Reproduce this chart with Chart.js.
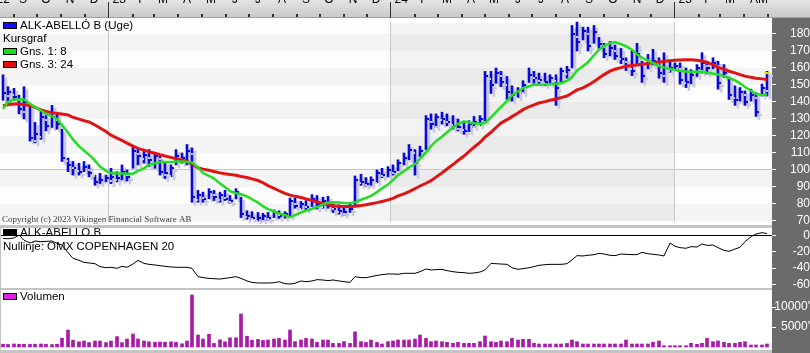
<!DOCTYPE html>
<html>
<head>
<meta charset="utf-8">
<title>ALK-ABELLÓ B (Uge)</title>
<script src="https://cdn.jsdelivr.net/npm/chart.js@4.4.1/dist/chart.umd.min.js"></script>
<style>
  html, body { margin: 0; padding: 0; background: #fff; }
  #wrap { position: relative; width: 810px; height: 353px; overflow: hidden; background: #fff; }
  #wrap canvas { position: absolute; left: 0; }
</style>
</head>
<body>
<div id="wrap">
  <canvas id="priceChart" width="810" height="228" style="top:0px"></canvas>
  <canvas id="relChart" width="810" height="62" style="top:228px"></canvas>
  <canvas id="volChart" width="810" height="63" style="top:290px"></canvas>
</div>
<script>
'use strict';

// ─── DATA (ugentlige bars fra 15. aug 2022) ─────────────────────
const startDate = [2022, 7, 15];

const high = [
  156,149,148,144,149,138,128,135,132,138,
  134,124,107,105,104,105,103,97,98,97,
  101,99,103,100,114,112,111,112,110,108,
  105,103,112,110,115,113,88,87,89,88,
  87,88,85,89,84,76,75.5,75,74.5,75,
  76.5,76,75.5,83.5,83.5,81.5,82,85.5,85,84,
  84.5,80,79.5,79,80.5,96.5,97.5,95.5,96,100,
  101,102,103,106,110,115,112,114,132,133,
  133,134,133,132,130,128,129,131.5,132,158,
  158,160,158,155,149.5,148.5,152.5,160,158,157,
  157,156,156,160,161,185,187,184,184,185,
  178,174.5,175.5,173.5,171.5,166,170,174.5,164,168,
  171,166,169,164,163,163,160,159,162,169,
  164,166,164,162,155,149.5,148.5,146.5,147.5,145.5,
  150.5,158
];
const low = [
  141,139,141,133,130,117,116,118,123,125,
  124,105,99,97,97,99,96,91,92,93,
  92,93,94,93.5,101,103,104,102,101,97,
  95,96,103,104,103,81,81,81,83,82,
  81,82,80.5,83,72,71,71,70,70,70.5,
  72,71.5,71.5,72.5,77.5,77,76.5,78.5,77,77.5,
  77.5,75,74,73.5,75,79.5,91,90.5,91,92.5,
  95.5,96,97,99.5,103,106,97,108,112,124,
  125,127,126,124,123,121,122.5,125,126,128.5,
  145,151,149,141.5,140.5,142.5,145,151.5,151,150.5,
  149.5,150.5,138,152,154,160,170,176.5,170,174.5,
  171.5,166,167,165,162.5,158.5,155.5,162,151.5,159.5,
  161,154,151.5,157.5,159.5,150.5,148.5,150.5,155,157,
  156.5,159.5,147.5,154.5,141.5,138,140.5,138,140.5,131.5,
  143.5,143.5
];
const close = [
  145,146,143,136,140,119,121,131,126,131,
  127,107,103,101,99,102,98,93,94,95,
  96,95,99,96,111,108,109,106,108,99,
  98,101,108,107,111,84,85,83,87,84,
  85,83,82,87,74,73,72,71.5,73,72,
  75,73,74,82,79,80,78,83,80,82,
  79,77,76,75,77,94,93,92,94,98,
  97,100,99,104,107,112,104,111,130,127,
  131,130,128,126,125,123,127,128,130,155,
  150,157,152,146,144,147,150,156,154,153,
  152,154,148,158,159,180,175,182,173,181,
  174,168,172,167,165,161,158,168,155,163,
  164,157,160,160,161,153,152,156,160,163,
  160,163,151,157,144,141,146,140,144,134,
  148,157
];
const avg8 = [
  136,140,141.5,141.5,141.5,139,137,135,133,131.5,
  130,126.5,122,118,114,111.5,109,105.5,102,99.5,
  98.2,98,98,97.8,97.8,99.5,101,103,104,104.7,
  104.7,104.7,105,105,104.7,104.5,101.5,98.2,96.5,95,
  92,90,87.5,86.3,85.7,84.5,82.8,80.8,78.7,77,
  75.6,74.5,73.5,72.3,73.5,75,76.1,77.2,78.2,79.8,
  80.7,81,80.9,80.6,80.5,81,82.5,83.6,84.8,87,
  89.2,91.5,94,97,99.3,101.5,103.5,106.5,110.5,114,
  117,119.6,122.2,125,127.2,128.6,128,127.5,127.2,127.6,
  131,134,137.2,140.5,144,146.2,148.2,149.3,150.2,150.2,
  150.3,150.5,150.7,151,152.5,154.5,158.5,161,163.5,167.5,
  170.8,173,174.5,175.3,174,172.8,170.8,168,166,164.3,
  162.8,161.2,160.3,159.6,158.9,158.3,157.9,157.6,157.9,157.8,
  157.2,156.7,156.2,155.2,154.1,152.7,151,148.8,146.6,144.8,
  144,144.5
];
const avg24 = [
  137.8,138.5,138.8,138.8,138.5,138,136.8,135.4,134.5,133.7,
  133.3,132.9,132.4,131,129.9,129,128.3,126.5,124.7,122.6,
  120.5,118.8,117.4,115.8,114.1,112.7,111.7,110.7,109.9,109,
  108.2,107.4,106.7,105.9,105.1,103.5,101.3,100.5,99.8,99.1,
  98.3,97.8,97.4,96.9,96.2,95.6,94.8,93.8,92.5,90.8,
  89.2,87.8,86.2,85.2,84.5,83.8,83,82.1,81.2,80.2,
  79.5,79,78.7,78.6,78.6,78.7,79.1,79.6,80.2,80.8,
  81.5,82.4,83.3,84.8,86,87.3,89,90.6,92.2,93.7,
  95.8,98.3,100.6,103.2,105.6,108.2,110.8,113.4,116.2,119.3,
  122.2,125,127.6,129.6,131.4,133.5,135.5,137.2,138.3,139.4,
  140.2,141,141.8,142.6,143.5,145.3,147.1,148.3,149.9,152,
  154.1,156.1,158.1,159.3,160.2,161,161.5,161.8,162.2,162.7,
  163.2,163.5,163.9,164.3,164.5,164.7,164.8,164.9,164.6,164.1,
  163.3,162,160.4,159.2,158.1,157.1,156.1,155.2,154.5,154,
  153.6,153.2
];
// relativ styrke mod OMX Copenhagen 20
const relStrength = [
  -3.5,-4,-3,0.5,-5.8,-9.2,-6.8,-7.6,-7.2,-6.8,
  -9.6,-11.7,-21,-28,-30.5,-33,-33.7,-34.6,-38.2,-39.5,
  -39,-40.3,-37.8,-39,-35,-30.5,-34.2,-35.4,-36.2,-37,
  -37.8,-38.6,-39,-39,-39,-40.3,-50.5,-51.7,-52.6,-53,
  -53.4,-52.6,-51.7,-50.5,-52.6,-55.8,-57.5,-58.3,-58.3,-58.3,
  -57.9,-56.7,-59.1,-59.5,-58.7,-55.8,-56.7,-55.8,-54.2,-54.6,
  -55.4,-54.6,-55.8,-56.7,-57.5,-50.5,-51.7,-51.7,-50.5,-49,
  -48,-47.2,-47.2,-47.6,-46.4,-46.4,-46.4,-44.4,-41.1,-42.3,
  -41.9,-41.5,-43.1,-44.4,-45.2,-45.6,-46.4,-46,-44.8,-42.3,
  -34.2,-34.6,-35,-35.4,-39.5,-41.5,-40.7,-39.5,-38.2,-36.6,
  -35.8,-35.4,-35.4,-35.4,-34.6,-30,-24.7,-25.1,-24.3,-23.5,
  -21.9,-22.7,-24.3,-24.7,-22.7,-23.1,-23.5,-23.5,-20.7,-22.3,
  -23.1,-23.9,-25.1,-9.2,-13.3,-14.9,-15.7,-13.7,-14.1,-10.4,
  -12.1,-11.7,-14.9,-18.2,-19.4,-16.6,-14.5,-7.6,-1.4,1.8,
  3.5,2.3
];
// volumen i tusinder
const volume = [
  700,650,750,700,700,650,700,750,700,600,
  700,2200,4250,1700,1300,1500,1100,1500,1500,1100,
  1500,2600,1100,2000,3250,2000,1500,1300,1200,1250,
  1200,1300,1200,800,1500,13000,3000,2000,3200,900,
  1800,1300,2300,2300,8250,2700,1700,1900,1650,1750,
  2000,2150,1750,4250,1350,1750,2150,2000,1150,1750,
  1750,900,900,1350,900,3800,1350,1150,1750,1150,
  750,1350,1500,1750,1750,1750,2000,3000,2170,1330,
  1500,1330,1170,920,1170,920,920,920,1330,2750,
  1330,1170,1500,1330,2170,1750,1920,1920,920,750,
  750,750,750,750,900,1750,1330,750,750,750,
  750,750,750,750,750,1750,750,750,750,750,
  1170,1500,330,330,330,330,330,920,670,920,
  2170,1330,1500,1170,920,920,1170,1330,500,500,
  500,750
];

const months = [
  '2022-08','2022-09','2022-10','2022-11','2022-12',
  '2023-01','2023-02','2023-03','2023-04','2023-05','2023-06','2023-07','2023-08','2023-09','2023-10','2023-11','2023-12',
  '2024-01','2024-02','2024-03','2024-04','2024-05','2024-06','2024-07','2024-08','2024-09','2024-10','2024-11','2024-12',
  '2025-01','2025-02','2025-03','2025-04','2025-05'
];
const monthLabels = [
  "'22",'S','O','N','D',
  "'23",'F','M','A','M','J','J','A','S','O','N','D',
  "'24",'F','M','A','M','J','J','A','S','O','N','D',
  "'25",'F','M','A','M'
];
const priceTicks = [70, 80, 90, 100, 110, 120, 130, 140, 150, 160, 170, 180];
const relTicks = [0, -20, -40, -60];
const volTicks = [5000, 10000];

// ─── LAYOUT / STYLE ─────────────────────────────────────────────
const FONT = "'Liberation Sans', Arial, sans-serif";
Chart.defaults.font.family = FONT;
Chart.defaults.font.size = 12;
Chart.defaults.color = '#000';

const X_MIN = -0.5, X_MAX = 141.9;
const AXIS_W = 38;
const PANEL_GREY = '#6b6b6b';
const SEP_GREY = '#c4c4c4';
const BAR_BLUE = '#0808d8';

const el = (id) => document.getElementById(id);
const DAY = 864e5;
const T0 = Date.UTC(...startDate);
const dateToX = (y, m, d) => (Date.UTC(y, m, d) - T0) / (7 * DAY) - 0.5;

const monthStart = months.map(s => {
  const [y, m] = s.split('-').map(Number);
  return { x: dateToX(y, m - 1, 1), jan: m === 1 };
});
const labelPos = monthStart.map(ms => Math.min(Math.max(ms.x + 13 / 7, X_MIN + 0.3), X_MAX - 1.6));
const yearStarts = monthStart.filter(ms => ms.jan).map(ms => ms.x);

const pts = (arr) => arr.map((v, i) => ({ x: i, y: v }));
const lastIdx = close.length - 1;

function rightAxis(min, max, tickVals, padding, gridColor, fmt) {
  return {
    position: 'right', min, max,
    afterBuildTicks: s => { s.ticks = tickVals.map(v => ({ value: v })); },
    afterFit: s => { s.width = AXIS_W; s.paddingTop = 0; s.paddingBottom = 0; },
    border: { display: false },
    grid: {
      drawOnChartArea: true,
      color: c => gridColor(c.tick ? c.tick.value : null),
      tickColor: '#fff', tickLength: 4, lineWidth: 1
    },
    ticks: { color: '#fff', crossAlign: 'far', padding, autoSkip: false, font: { size: 12 },
             callback: fmt || (v => String(v)) }
  };
}
const hiddenX = () => ({ type: 'linear', min: X_MIN, max: X_MAX, offset: false, alignToPixels: true, display: false });
const baseOpts = {
  responsive: false, animation: false, events: [],
  layout: { padding: 0, autoPadding: false },
  plugins: { legend: { display: false }, tooltip: { enabled: false } }
};

function legendItem(ctx, x, y, fill, text) {
  ctx.fillStyle = fill;
  ctx.fillRect(x, y, 14, 7);
  ctx.strokeStyle = '#000';
  ctx.lineWidth = 1;
  ctx.strokeRect(x + 0.5, y + 0.5, 13, 6);
  ctx.fillStyle = '#000';
  ctx.fillText(text, x + 17, y + 4);
}

// ─── 1. KURSGRAF ────────────────────────────────────────────────
const BAR_INDEX = 3;
const priceDecor = {
  id: 'priceDecor',
  beforeDraw(chart) {
    const { ctx, chartArea: a, scales: { x, y } } = chart;
    ctx.save();
    ctx.fillStyle = '#fff';
    ctx.fillRect(0, 0, chart.width, chart.height);
    // vandrette bånd
    for (let i = 0; i < priceTicks.length; i++) {
      const lo = priceTicks[i], hi = lo + 10;
      const top = y.getPixelForValue(hi), bot = y.getPixelForValue(lo);
      ctx.fillStyle = (lo / 10) % 2 ? '#f4f4f4' : '#fdfdfd';
      ctx.fillRect(a.left, top, a.right - a.left, bot - top);
    }
    // 2024 skygge
    const x24 = x.getPixelForValue(yearStarts[1]);
    const x25 = x.getPixelForValue(yearStarts[2]);
    ctx.fillStyle = 'rgba(0,0,0,0.04)';
    ctx.fillRect(x24, a.top + 5, x25 - x24, a.bottom - a.top - 12);
    // årsskillelinjer
    ctx.fillStyle = '#c8c8c8';
    yearStarts.forEach(v => {
      const px = Math.round(x.getPixelForValue(v));
      ctx.fillRect(px, a.top + 4, 1, a.bottom - a.top - 10);
    });
    // tidsakse
    const g = ctx.createLinearGradient(0, 0, 0, a.top);
    g.addColorStop(0, '#e4e4e4');
    g.addColorStop(1, '#c8c8c8');
    ctx.fillStyle = g;
    ctx.fillRect(0, 0, chart.width, a.top);
    ctx.fillStyle = '#a0a0a0';
    ctx.fillRect(0, a.top - 1, chart.width, 1);
    ctx.fillStyle = '#303030';
    monthStart.forEach(ms => {
      const px = Math.round(x.getPixelForValue(ms.x));
      if (px < 0 || px > a.right) return;
      if (ms.jan) ctx.fillRect(px, 2, 1, a.top - 2);
      else ctx.fillRect(px, a.top - 4, 2, 3);
    });
    // højre panel
    ctx.fillStyle = PANEL_GREY;
    ctx.fillRect(a.right, a.top, chart.width - a.right, chart.height - a.top);
    ctx.restore();
  },
  beforeDatasetDraw(chart, args) {
    if (args.index !== BAR_INDEX) return;
    const ctx = chart.ctx;
    ctx.save();
    ctx.shadowColor = '#cacadc';
    ctx.shadowOffsetX = 3;
    ctx.shadowOffsetY = 3;
    ctx.shadowBlur = 0;
  },
  afterDatasetDraw(chart, args) {
    if (args.index !== BAR_INDEX) return;
    const { ctx, scales: { x, y } } = chart;
    ctx.fillStyle = BAR_BLUE;
    close.forEach((c, i) => {
      const px = Math.round(x.getPixelForValue(i));
      const py = Math.round(y.getPixelForValue(c));
      ctx.fillRect(px + 1, py - 1, 2, 2);
    });
    ctx.restore();
  },
  afterDraw(chart) {
    const { ctx, chartArea: a } = chart;
    ctx.save();
    ctx.fillStyle = SEP_GREY;
    ctx.fillRect(0, chart.height - 3, a.right, 3);
    ctx.font = "11.5px " + FONT;
    ctx.textBaseline = 'middle';
    legendItem(ctx, 3, 22, '#1010ff', 'ALK-ABELLÓ B (Uge)');
    ctx.fillStyle = '#000';
    ctx.fillText('Kursgraf', 3, 39);
    legendItem(ctx, 3, 48, '#18e018', 'Gns. 1: 8');
    legendItem(ctx, 3, 61, '#e01010', 'Gns. 3: 24');
    ctx.font = "9px 'Liberation Serif', 'Times New Roman', serif";
    ctx.fillStyle = '#3c3c3c';
    ctx.textBaseline = 'alphabetic';
    ctx.fillText('Copyright (c) 2023 Vikingen Financial Software AB', 2, 222);
    ctx.restore();
  }
};

new Chart(el('priceChart'), {
  data: {
    datasets: [
      { type: 'scatter', label: 'Sidste kurs', data: [{ x: lastIdx, y: close[lastIdx] }],
        pointStyle: 'line', radius: 3, borderColor: '#f2e400', borderWidth: 2, order: 0 },
      { type: 'line', label: 'Gns. 1: 8', data: pts(avg8), borderColor: '#22dd22', borderWidth: 2.5, pointRadius: 0, tension: 0, order: 1 },
      { type: 'line', label: 'Gns. 3: 24', data: pts(avg24), borderColor: '#e01414', borderWidth: 3, pointRadius: 0, tension: 0, order: 2 },
      { type: 'bar', label: 'ALK-ABELLÓ B', data: high.map((h, i) => ({ x: i, y: [low[i], h] })),
        backgroundColor: BAR_BLUE, barThickness: 2, borderWidth: 0, order: 3 }
    ]
  },
  options: {
    ...baseOpts,
    scales: {
      x: {
        type: 'linear', position: 'top', min: X_MIN, max: X_MAX, offset: false, alignToPixels: true,
        afterBuildTicks: s => { s.ticks = labelPos.map(v => ({ value: v })); },
        afterFit: s => { s.height = 18; s.paddingLeft = 0; s.paddingRight = 0; },
        grid: { display: false, offset: false },
        border: { display: false },
        ticks: { autoSkip: false, maxRotation: 0, minRotation: 0, padding: 3, color: '#000',
                 font: { size: 12 }, callback: (v, i) => monthLabels[i] }
      },
      y: rightAxis(65.88, 189.41, priceTicks, 10, v => v === 100 ? '#c8c8c8' : 'rgba(0,0,0,0)')
    }
  },
  plugins: [priceDecor]
});

// ─── 2. RELATIV STYRKE ──────────────────────────────────────────
const relDecor = {
  id: 'relDecor',
  beforeDraw(chart) {
    const { ctx, chartArea: a } = chart;
    ctx.save();
    ctx.fillStyle = '#fff';
    ctx.fillRect(0, 0, chart.width, chart.height);
    ctx.fillStyle = PANEL_GREY;
    ctx.fillRect(a.right, 0, chart.width - a.right, chart.height);
    ctx.restore();
  },
  afterDraw(chart) {
    const { ctx, chartArea: a } = chart;
    ctx.save();
    ctx.fillStyle = SEP_GREY;
    ctx.fillRect(0, chart.height - 2, a.right, 2);
    ctx.fillRect(0, 0, 1, chart.height);
    ctx.font = "11.5px " + FONT;
    ctx.textBaseline = 'middle';
    legendItem(ctx, 3, 1, '#000', 'ALK-ABELLÓ B');
    ctx.fillStyle = '#000';
    ctx.fillText('Nullinje: OMX COPENHAGEN 20', 3, 19);
    ctx.restore();
  }
};

new Chart(el('relChart'), {
  type: 'line',
  data: {
    datasets: [
      { label: 'ALK-ABELLÓ B', data: pts(relStrength), borderColor: '#000', borderWidth: 1, pointRadius: 0, tension: 0 }
    ]
  },
  options: {
    ...baseOpts,
    scales: {
      x: hiddenX(),
      y: rightAxis(-66.87, 9.2, relTicks, 12, v => v === 0 ? '#000' : 'rgba(0,0,0,0)')
    }
  },
  plugins: [relDecor]
});

// ─── 3. VOLUMEN ─────────────────────────────────────────────────
const volDecor = {
  id: 'volDecor',
  beforeDraw(chart) {
    const { ctx, chartArea: a } = chart;
    ctx.save();
    ctx.fillStyle = '#fff';
    ctx.fillRect(0, 0, chart.width, chart.height);
    ctx.fillStyle = PANEL_GREY;
    ctx.fillRect(a.right, 0, chart.width - a.right, chart.height);
    ctx.restore();
  },
  afterDraw(chart) {
    const { ctx, chartArea: a } = chart;
    ctx.save();
    ctx.fillStyle = SEP_GREY;
    ctx.fillRect(0, chart.height - 3, a.right, 3);
    ctx.fillRect(0, 0, 1, chart.height);
    ctx.font = "11.5px " + FONT;
    ctx.textBaseline = 'middle';
    legendItem(ctx, 3, 3, '#e020e0', 'Volumen');
    ctx.restore();
  }
};

new Chart(el('volChart'), {
  type: 'bar',
  data: {
    datasets: [
      { label: 'Volumen', data: pts(volume), backgroundColor: '#a81aa8', barThickness: 3, borderWidth: 0 }
    ]
  },
  options: {
    ...baseOpts,
    scales: {
      x: { ...hiddenX(), grid: { offset: false } },
      y: rightAxis(-1500, 14250, volTicks, -7, () => 'rgba(0,0,0,0)', v => v + "'")
    }
  },
  plugins: [volDecor]
});
</script>
</body>
</html>
